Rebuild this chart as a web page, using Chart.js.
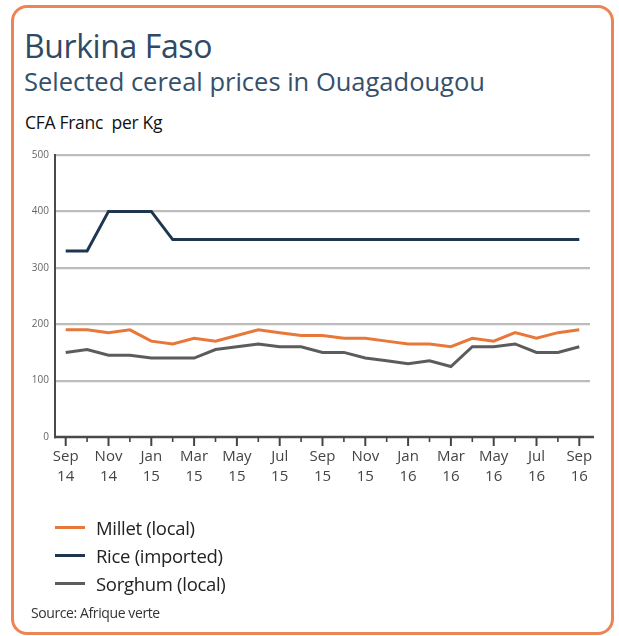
<!DOCTYPE html>
<html>
<head>
<meta charset="utf-8">
<script src="https://cdn.jsdelivr.net/npm/chart.js@4"></script>
<style>
  html, body { margin: 0; padding: 0; background: #fff; }
  body { width: 619px; height: 636px; position: relative; overflow: hidden; font-family: "Open Sans", sans-serif; }
  .frame { position: absolute; left: 11px; top: 5px; width: 597px; height: 624px; border: 3px solid #ec8454; border-radius: 16px; }
  .title { position: absolute; left: 24px; top: 24px; font-size: 32px; line-height: normal; color: #2f4a66; letter-spacing: -0.4px; white-space: nowrap; }
  .subtitle { position: absolute; left: 24px; top: 64px; font-size: 25.5px; line-height: normal; color: #35506b; letter-spacing: 0px; white-space: nowrap; }
  .unit { position: absolute; left: 25px; top: 110px; font-size: 17.5px; line-height: normal; color: #111; letter-spacing: -0.3px; white-space: nowrap; }
  #wrap { position: absolute; left: 0; top: 0; width: 619px; height: 636px; }
  .legend { position: absolute; left: 55px; top: 513px; }
  .legend .item { display: flex; align-items: center; height: 28px; font-size: 18.5px; color: #222; letter-spacing: -0.3px; white-space: nowrap; }
  .legend .swatch { width: 30px; height: 3px; margin-right: 11px; }
  .source { position: absolute; left: 31px; top: 603px; font-size: 14px; color: #333; letter-spacing: -0.4px; white-space: nowrap; }
</style>
</head>
<body>
<div class="frame"></div>
<div class="title">Burkina Faso</div>
<div class="subtitle">Selected cereal prices in Ouagadougou</div>
<div class="unit">CFA Franc&nbsp; per Kg</div>
<div id="wrap"><canvas id="chart" width="619" height="636"></canvas></div>
<div class="legend" id="legend"></div>
<div class="source">Source: Afrique verte</div>
<script>
// Months Sep 2014 – Sep 2016; only every other month carries a label
const months = ['Sep 14','Oct 14','Nov 14','Dec 14','Jan 15','Feb 15','Mar 15','Apr 15','May 15','Jun 15','Jul 15','Aug 15',
                'Sep 15','Oct 15','Nov 15','Dec 15','Jan 16','Feb 16','Mar 16','Apr 16','May 16','Jun 16','Jul 16','Aug 16','Sep 16'];

// Prices, CFA Franc per kg
const millet  = [190,190,185,190,170,165,175,170,180,190,185,180,180,175,175,170,165,165,160,175,170,185,175,185,190];
const rice    = [330,330,400,400,400,350,350,350,350,350,350,350,350,350,350,350,350,350,350,350,350,350,350,350,350];
const sorghum = [150,155,145,145,140,140,140,155,160,165,160,160,150,150,140,135,130,135,125,160,160,165,150,150,160];

const yTicks = [0,100,200,300,400,500];

const series = [
  { label: 'Millet (local)',   data: millet,  color: '#e8773a' },
  { label: 'Rice (imported)',  data: rice,    color: '#1e3650' },
  { label: 'Sorghum (local)',  data: sorghum, color: '#5c5c5c' }
];

// Short and long tick marks under the month axis
const monthTicks = {
  id: 'monthTicks',
  afterDraw(chart) {
    const x = chart.scales.x, ctx = chart.ctx, y0 = chart.chartArea.bottom;
    ctx.save();
    ctx.strokeStyle = '#444';
    months.forEach((m, i) => {
      const px = x.getPixelForValue(i);
      ctx.lineWidth = i % 2 === 0 ? 2 : 1.6;
      ctx.beginPath();
      ctx.moveTo(px, y0);
      ctx.lineTo(px, y0 + (i % 2 === 0 ? 9 : 5));
      ctx.stroke();
    });
    ctx.restore();
  }
};

// Dark base line along the value 0
const baseLine = {
  id: 'baseLine',
  afterDatasetsDraw(chart) {
    const a = chart.chartArea, ctx = chart.ctx;
    ctx.save();
    ctx.strokeStyle = '#4a4a4a';
    ctx.lineWidth = 2.4;
    ctx.beginPath();
    ctx.moveTo(a.left - 1, a.bottom);
    ctx.lineTo(a.right + 4, a.bottom);
    ctx.stroke();
    ctx.restore();
  }
};

const chart = new Chart(document.getElementById('chart'), {
  type: 'line',
  data: {
    labels: months.map((m, i) => i % 2 === 0 ? m.split(' ') : ''),
    datasets: series.map(s => ({
      label: s.label, data: s.data, borderColor: s.color, backgroundColor: s.color,
      borderWidth: 3, pointRadius: 0, tension: 0, fill: false
    }))
  },
  options: {
    responsive: false,
    animation: false,
    events: [],
    layout: { padding: { left: 15, top: 155, right: 29, bottom: 0 } },
    plugins: { legend: { display: false }, tooltip: { enabled: false } },
    scales: {
      x: {
        offset: true,
        grid: { display: false },
        border: { display: false },
        ticks: {
          autoSkip: false, maxRotation: 0, padding: 2,
          color: '#444', font: { family: 'Open Sans', size: 15, lineHeight: 1.33 }
        },
        afterFit(s) { s.height = 199; }
      },
      y: {
        min: 0, max: 500,
        afterBuildTicks(s) { s.ticks = yTicks.map(v => ({ value: v })); },
        grid: {
          color: (c) => c.tick.value === 0 ? 'rgba(0,0,0,0)' : '#bcbcbc',
          lineWidth: 2.2, drawTicks: false
        },
        border: { display: true, color: '#4a4a4a', width: 2 },
        ticks: { color: '#666', font: { family: 'Open Sans', size: 10 }, padding: 6 },
        afterFit(s) { s.width = 40; }
      }
    }
  },
  plugins: [monthTicks, baseLine]
});

// Legend entries built from the chart's own datasets
const legendEl = document.getElementById('legend');
chart.data.datasets.forEach(ds => {
  const item = document.createElement('div');
  item.className = 'item';
  const sw = document.createElement('span');
  sw.className = 'swatch';
  sw.style.background = ds.borderColor;
  item.appendChild(sw);
  item.appendChild(document.createTextNode(ds.label));
  legendEl.appendChild(item);
});
</script>
</body>
</html>
